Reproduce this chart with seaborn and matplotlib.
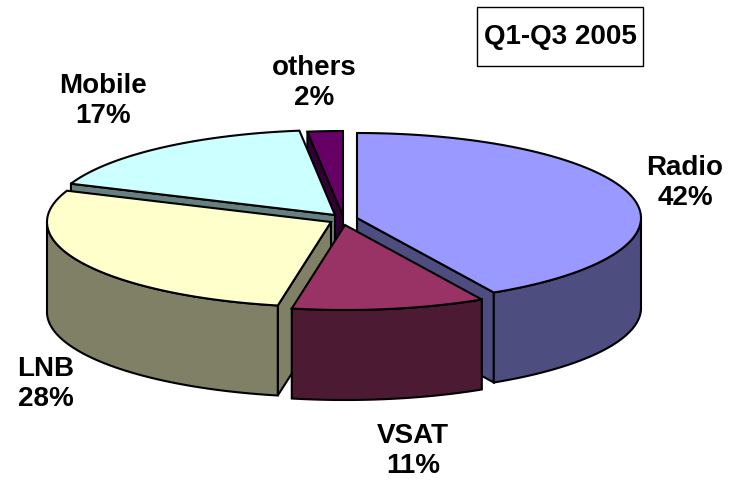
import numpy as np
import matplotlib
matplotlib.use("Agg")
import matplotlib.pyplot as plt
import seaborn as sns
from matplotlib.patches import Rectangle

# Data
categories = ["Radio", "VSAT", "LNB", "Mobile", "others"]
shares = [42, 11, 28, 17, 2]
title_label = "Q1-Q3 2005"

# Layout and style (pixel space of the 730x485 canvas)
top_colors = ["#9999FF", "#993366", "#FFFFCC", "#CCFFFF", "#660066"]
apexes = [(357, 219), (345, 226), (331, 223), (335, 216), (343, 217)]
label_pos = [(685, 183), (413, 451), (46, 384), (103, 101), (314, 83)]
draw_order = [4, 3, 0, 2, 1]
RX, RY, DEPTH = 284, 85, 90
LW = 1.5

sns.set_theme(style="white")
plt.rcParams["font.family"] = ["Liberation Sans", "DejaVu Sans"]
palette = sns.color_palette(top_colors)

fig, ax = plt.subplots(figsize=(7.3, 4.85), dpi=100)
ax.set_position([0, 0, 1, 1])
ax.set_xlim(0, 730)
ax.set_ylim(485, 0)
ax.axis("off")

edges = np.concatenate([[0], np.cumsum(shares)]) / np.sum(shares) * 360.0


def rim(center, t0, t1, n=120):
    t = np.radians(np.linspace(t0, t1, n))
    return center[0] + RX * np.sin(t), center[1] - RY * np.cos(t)


def shape(xs, ys, color, z):
    ax.fill(xs, ys, facecolor=color, edgecolor="black", linewidth=LW,
            joinstyle="miter", zorder=z)


for rank, i in enumerate(draw_order):
    t0, t1 = edges[i], edges[i + 1]
    c = apexes[i]
    top = palette[i]
    side = tuple(v * 0.5 for v in top)
    z = 2 + rank * 3

    # Cut faces that look towards the viewer
    for ang, visible in ((t0, np.sin(np.radians(t0)) < -1e-9),
                         (t1, np.sin(np.radians(t1)) > 1e-9)):
        if visible:
            ex, ey = rim(c, ang, ang, 1)
            shape([c[0], ex[0], ex[0], c[0]],
                  [c[1], ey[0], ey[0] + DEPTH, c[1] + DEPTH], side, z)

    # Outer wall: only the front half of the ellipse is seen
    a0, a1 = max(t0, 90.0), min(t1, 270.0)
    if a1 > a0:
        x, y = rim(c, a0, a1)
        shape(np.r_[x, x[::-1]], np.r_[y, y[::-1] + DEPTH], side, z + 1)

    # Top face
    x, y = rim(c, t0, t1)
    shape(np.r_[c[0], x], np.r_[c[1], y], top, z + 2)

# Category labels
for name, share, (lx, ly) in zip(categories, shares, label_pos):
    ax.text(lx, ly, f"{name}\n{share}%", ha="center", va="center",
            fontsize=20, fontweight="bold", color="black",
            linespacing=1.2, zorder=40)

# Period box
ax.add_patch(Rectangle((477, 8), 166, 59, facecolor="white",
                       edgecolor="black", linewidth=1.0, zorder=40))
ax.text(560, 37, title_label, ha="center", va="center", fontsize=20,
        fontweight="bold", color="black", zorder=41)

fig.savefig("out.png", dpi=100)
